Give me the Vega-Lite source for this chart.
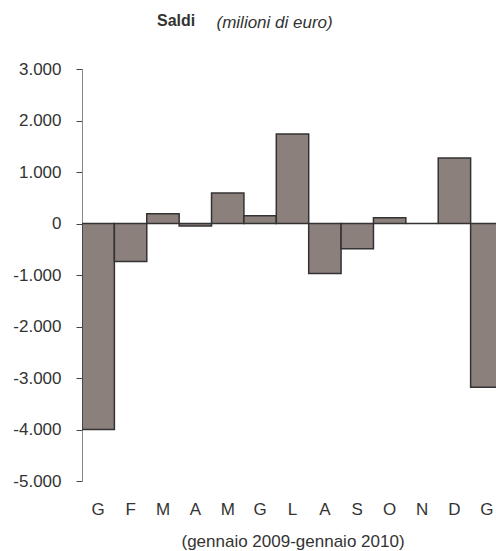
{
  "$schema": "https://vega.github.io/schema/vega-lite/v6.json",
  "width": 414,
  "height": 412,
  "autosize": {"type": "none"},
  "padding": {"left": 82, "top": 69, "right": 0, "bottom": 70},
  "background": "white",
  "config": {
    "view": {"stroke": null},
    "font": "Liberation Sans",
    "locale": {"number": {"decimal": ",", "thousands": ".", "grouping": [3], "currency": ["", " €"], "minus": "-"}}
  },
  "title": {
    "text": "Saldi",
    "anchor": "start",
    "frame": "group",
    "dx": 75,
    "offset": -16,
    "font": "Liberation Sans",
    "fontSize": 16,
    "fontWeight": "bold",
    "color": "#333333"
  },
  "data": {
    "values": [
      {"mese": "gen 2009", "saldo": -4000},
      {"mese": "feb 2009", "saldo": -740},
      {"mese": "mar 2009", "saldo": 190},
      {"mese": "apr 2009", "saldo": -50},
      {"mese": "mag 2009", "saldo": 590},
      {"mese": "giu 2009", "saldo": 150},
      {"mese": "lug 2009", "saldo": 1740},
      {"mese": "ago 2009", "saldo": -970},
      {"mese": "set 2009", "saldo": -490},
      {"mese": "ott 2009", "saldo": 110},
      {"mese": "nov 2009", "saldo": 0},
      {"mese": "dic 2009", "saldo": 1270},
      {"mese": "gen 2010", "saldo": -3180}
    ]
  },
  "encoding": {
    "x": {
      "field": "mese",
      "type": "nominal",
      "sort": null,
      "scale": {"paddingInner": 0, "paddingOuter": 0, "range": [0, 421]},
      "axis": {
        "title": "(gennaio 2009-gennaio 2010)",
        "titleFont": "Liberation Sans",
        "titleFontSize": 17,
        "titleFontWeight": "normal",
        "titleColor": "#333333",
        "titlePadding": 16,
        "labelExpr": "upper(substring(datum.value, 0, 1))",
        "labelAngle": 0,
        "labelFontSize": 17,
        "labelColor": "#333333",
        "labelPadding": 20,
        "ticks": false,
        "domain": false,
        "grid": false
      }
    }
  },
  "layer": [
    {
      "mark": {"type": "bar", "fill": "#8c807c", "stroke": "#333333", "strokeWidth": 1.5, "clip": true},
      "encoding": {
        "y": {
          "field": "saldo",
          "type": "quantitative",
          "scale": {"domain": [-5000, 3000], "nice": false, "zero": false},
          "axis": {
            "title": "(milioni di euro)",
            "titleAngle": 0,
            "titleAlign": "left",
            "titleBaseline": "middle",
            "titleX": 134,
            "titleY": -47,
            "titleFont": "Liberation Sans",
            "titleFontSize": 17,
            "titleFontStyle": "italic",
            "titleFontWeight": "normal",
            "titleColor": "#333333",
            "values": [-5000, -4000, -3000, -2000, -1000, 0, 1000, 2000, 3000],
            "format": ",.0f",
            "grid": false,
            "domainColor": "#888888",
            "domainWidth": 1,
            "tickColor": "#444444",
            "tickSize": 6,
            "labelFontSize": 17,
            "labelColor": "#333333",
            "labelPadding": 15
          }
        }
      }
    },
    {
      "mark": {"type": "rule", "color": "#333333", "strokeWidth": 1},
      "encoding": {"y": {"datum": 0}}
    }
  ]
}
